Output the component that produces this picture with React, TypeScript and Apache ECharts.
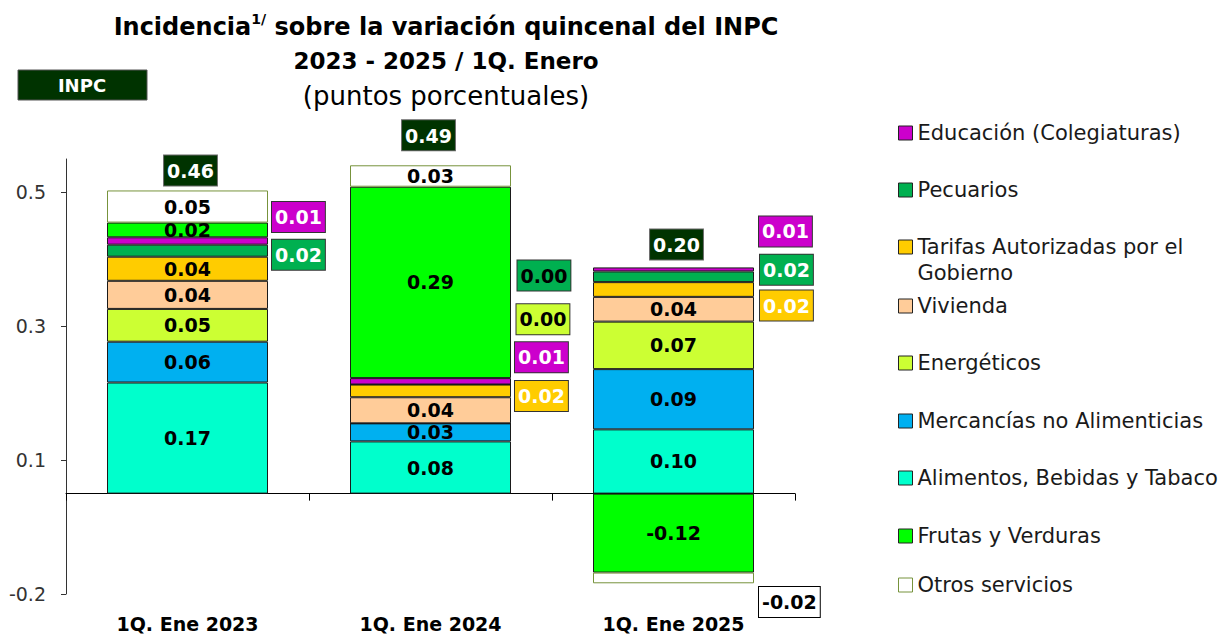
import { useEffect, useRef } from "react";
import * as echarts from "echarts";

const FONT = "DejaVu Sans";

const categories = ["1Q. Ene 2023", "1Q. Ene 2024", "1Q. Ene 2025"];
const alimentos = [0.166, 0.078, 0.096];
const mercancias = [0.061, 0.027, 0.09];
const energeticos = [0.049, 0.0, 0.071];
const vivienda = [0.042, 0.039, 0.037];
const tarifas = [0.036, 0.019, 0.022];
const pecuarios = [0.018, 0.0, 0.016];
const educacion = [0.011, 0.0096, 0.006];
const frutas = [0.022, 0.286, -0.118];
const otros = [0.048, 0.032, -0.016];
const inpc = [0.46, 0.49, 0.2];
const yTickValues = [-0.15, 0.05, 0.25, 0.45];
const yTickLabels = ["-0.2", "0.1", "0.3", "0.5"];

const seriesDefs = [
  { name: "Alimentos, Bebidas y Tabaco", data: alimentos, color: "#00FFCC" },
  { name: "Mercancías no Alimenticias", data: mercancias, color: "#00B0F0" },
  { name: "Energéticos", data: energeticos, color: "#CCFF33" },
  { name: "Vivienda", data: vivienda, color: "#FFCC99" },
  { name: "Tarifas Autorizadas por el Gobierno", data: tarifas, color: "#FFCC00" },
  { name: "Pecuarios", data: pecuarios, color: "#00B050" },
  { name: "Educación (Colegiaturas)", data: educacion, color: "#CC00CC" },
  { name: "Frutas y Verduras", data: frutas, color: "#00FF00" },
  { name: "Otros servicios", data: otros, color: "#FFFFFF", border: "#77933C" },
];

// label placement (layout only)
const externalLabels: Record<string, Record<number, { dx: number; dy: number; text: string; box?: string }>> = {
  "Educación (Colegiaturas)": {
    0: { dx: 0, dy: -24, text: "#FFFFFF" },
    1: { dx: 0, dy: -24, text: "#FFFFFF" },
    2: { dx: 1, dy: -38, text: "#FFFFFF" },
  },
  Pecuarios: {
    0: { dx: 0, dy: 4, text: "#FFFFFF" },
    1: { dx: 2, dy: -109, text: "#000000" },
    2: { dx: 2, dy: -7, text: "#FFFFFF" },
  },
  "Tarifas Autorizadas por el Gobierno": {
    1: { dx: 0, dy: 5, text: "#FFFFFF" },
    2: { dx: 2, dy: 16, text: "#FFFFFF" },
  },
  Energéticos: { 1: { dx: 1, dy: -104, text: "#000000" } },
  "Otros servicios": { 2: { dx: 1, dy: 24, text: "#000000", box: "#000000" } },
};

const inpcOffsets = [[3, 0], [-2, -10], [3, -3]];

const legendRows = [
  { name: "Educación (Colegiaturas)", y: 133 },
  { name: "Pecuarios", y: 190 },
  { name: "Tarifas Autorizadas por el Gobierno", y: 247 },
  { name: "Vivienda", y: 306 },
  { name: "Energéticos", y: 363 },
  { name: "Mercancías no Alimenticias", y: 421 },
  { name: "Alimentos, Bebidas y Tabaco", y: 478 },
  { name: "Frutas y Verduras", y: 536 },
  { name: "Otros servicios", y: 585 },
];

const fmt = (v: number) => (Math.abs(v) < 0.005 ? "0.00" : v.toFixed(2));

export default function App() {
  const ref = useRef<HTMLDivElement>(null);
  useEffect(() => {
    if (!ref.current) return;
    const chart = echarts.init(ref.current, null, { renderer: "svg" });

    const positiveTops = categories.map((_, i) =>
      seriesDefs.reduce((acc, s) => acc + (s.data[i] > 0 ? s.data[i] : 0), 0)
    );

    const barSeries = seriesDefs.map((s) => ({
      name: s.name,
      type: "bar",
      stack: "total",
      barWidth: 161,
      emphasis: { disabled: true },
      itemStyle: { color: s.color, borderColor: s.border ?? "#1a1a1a", borderWidth: 1 },
      label: {
        show: true,
        position: "inside",
        formatter: (p: any) => fmt(p.value),
        fontFamily: FONT,
        fontWeight: "bold",
        fontSize: 19,
        color: "#000000",
      },
      data: s.data.map((v, i) => {
        const ext = externalLabels[s.name]?.[i];
        if (!ext) return { value: v };
        return {
          value: v,
          label: {
            show: true,
            position: "right",
            distance: 4,
            offset: [ext.dx, ext.dy],
            color: ext.text,
            backgroundColor: s.color,
            borderColor: ext.box ?? "#333333",
            borderWidth: 1,
            padding: [6, 3, 5, 3],
            fontSize: 19,
          },
        };
      }),
    }));

    const legends = legendRows.map((row) => {
      const s = seriesDefs.find((d) => d.name === row.name)!;
      const multi = row.name.startsWith("Tarifas");
      return {
        data: [row.name],
        orient: "vertical",
        left: 898,
        top: multi ? row.y - 39 : row.y - 12,
        padding: 0,
        itemWidth: 14,
        itemHeight: 14,
        itemGap: 6,
        selectedMode: false,
        icon: "rect",
        itemStyle: { borderColor: s.border ?? "#222222", borderWidth: 1 },
        formatter: (n: string) =>
          n.startsWith("Tarifas") ? "\nTarifas Autorizadas por el\nGobierno" : n,
        textStyle: {
          fontFamily: FONT,
          fontSize: 21,
          color: "#1a1a1a",
          lineHeight: multi ? 26 : 24,
        },
      };
    });

    chart.setOption({
      animation: false,
      textStyle: { fontFamily: FONT },
      grid: { left: 66, right: 435, top: 159, bottom: 42, containLabel: false, outerBoundsMode: "none" },
      legend: legends,
      xAxis: {
        type: "category",
        data: categories,
        axisLine: { onZero: true, lineStyle: { color: "#000000", width: 1 } },
        axisTick: { show: true, length: 7, alignWithLabel: false, lineStyle: { color: "#000000" } },
        axisLabel: {
          margin: 20,
          fontFamily: FONT,
          fontWeight: "bold",
          fontSize: 19,
          color: "#000000",
        },
      },
      yAxis: {
        type: "value",
        min: -0.15,
        max: 0.5,
        splitLine: { show: false },
        axisLine: { show: true, lineStyle: { color: "#333333" } },
        axisTick: { show: true, length: 5, customValues: yTickValues, lineStyle: { color: "#333333" } },
        axisLabel: {
          customValues: yTickValues,
          margin: 20,
          fontFamily: FONT,
          fontSize: 19,
          color: "#333333",
          formatter: (v: number) => {
            const i = yTickValues.findIndex((t) => Math.abs(t - v) < 1e-9);
            return i >= 0 ? yTickLabels[i] : "";
          },
        },
      },
      series: [
        ...barSeries,
        {
          name: "INPC",
          type: "scatter",
          symbolSize: 0,
          z: 10,
          itemStyle: { opacity: 1 },
          emphasis: { disabled: true },
          data: positiveTops.map((t, i) => ({
            value: t,
            label: { offset: inpcOffsets[i] },
          })),
          label: {
            show: true,
            position: "top",
            distance: 5,
            formatter: (p: any) => inpc[p.dataIndex].toFixed(2),
            fontFamily: FONT,
            fontWeight: "bold",
            fontSize: 19,
            color: "#FFFFFF",
            backgroundColor: "#003300",
            borderColor: "#666666",
            borderWidth: 1,
            padding: [6, 3, 5, 3],
          },
        },
      ],
      graphic: [
        {
          type: "text",
          x: 446,
          y: 27,
          style: {
            text: "{b|Incidencia}{sup|1/}{b| sobre la variación quincenal del INPC}",
            align: "center",
            verticalAlign: "middle",
            rich: {
              b: { fontFamily: FONT, fontSize: 24, fontWeight: "bold", fill: "#000000", lineHeight: 30 },
              sup: { fontFamily: FONT, fontSize: 14, fontWeight: "bold", fill: "#000000", lineHeight: 14, verticalAlign: "top" },
            },
          },
        },
        {
          type: "text",
          x: 446,
          y: 61,
          style: {
            text: "2023 - 2025 / 1Q. Enero",
            align: "center",
            verticalAlign: "middle",
            font: `bold 23px '${FONT}'`,
            fill: "#000000",
          },
        },
        {
          type: "text",
          x: 446,
          y: 96,
          style: {
            text: "(puntos porcentuales)",
            align: "center",
            verticalAlign: "middle",
            font: `26px '${FONT}'`,
            fill: "#000000",
          },
        },
        {
          type: "rect",
          shape: { x: 18, y: 70, width: 129, height: 30 },
          style: { fill: "#003300", stroke: "#555555", lineWidth: 1 },
        },
        {
          type: "text",
          x: 82,
          y: 85,
          style: {
            text: "INPC",
            align: "center",
            verticalAlign: "middle",
            font: `bold 18px '${FONT}'`,
            fill: "#FFFFFF",
          },
        },
      ],
    });
    return () => chart.dispose();
  }, []);
  return (
    <div
      ref={ref}
      style={{ position: "fixed", left: 0, top: 0, width: 1230, height: 636, background: "#FFFFFF" }}
    />
  );
}
